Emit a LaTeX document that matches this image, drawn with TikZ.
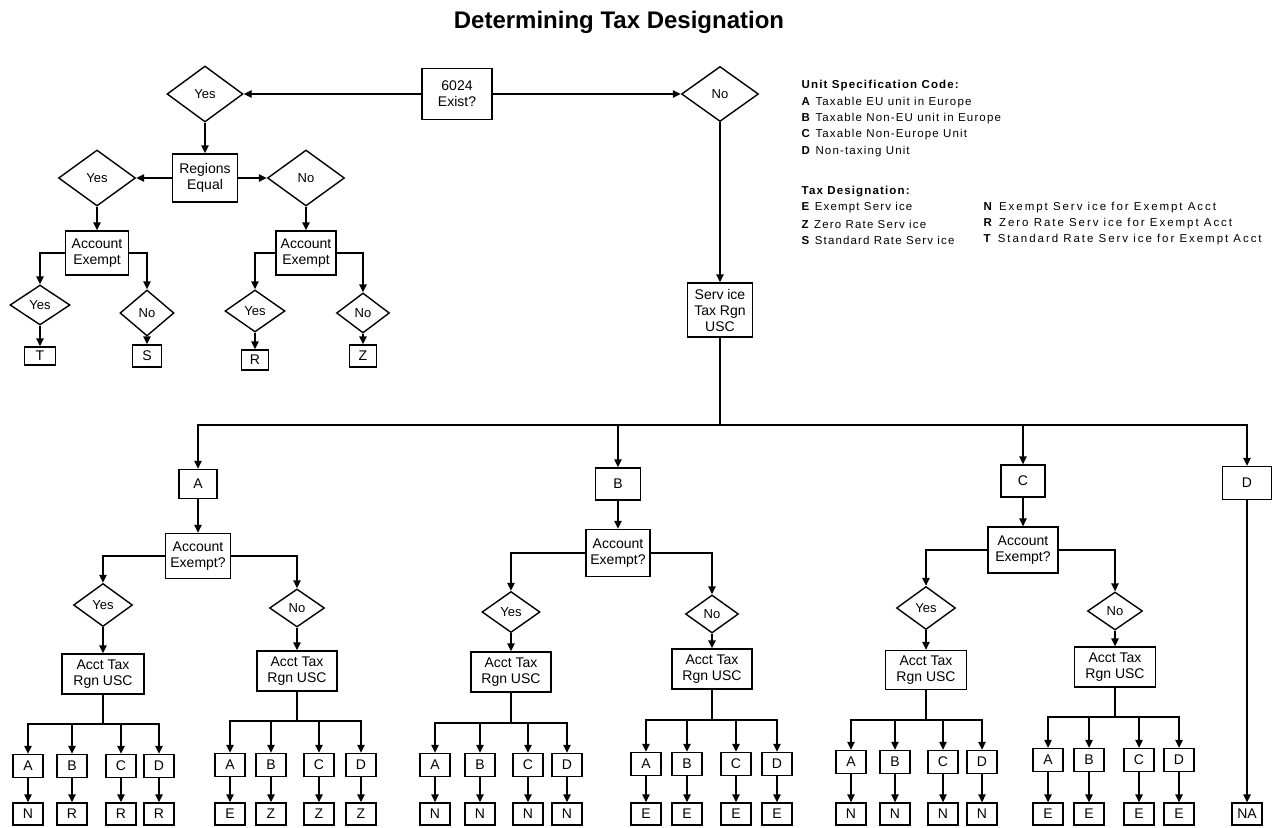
\documentclass[tikz,border=0pt]{standalone}
\usepackage{fontspec}
\setmainfont{Liberation Sans}
\newfontfamily\keyfontL[LetterSpace=10]{Liberation Sans}
\newfontfamily\keyfontR[LetterSpace=17]{Liberation Sans}
\usetikzlibrary{arrows.meta,shapes.geometric}

% one row of unit boxes under an "Acct Tax Rgn USC" box, each with its result box
\newcommand\subrow[5]{%
  \coordinate (#1j) at (#2.south |- 0,#3);
  \draw[thick line] (#2.south) -- (#1j);
  \foreach \xx/\uu/\ll [count=\k] in {#5} {
    \node[sbox] (#1u\k) at (\xx,#4) {\uu};
    \node[sbox,minimum height=22pt] (#1l\k) at (\xx,814) {\ll};
    \draw[->] (#1j) -| (#1u\k.north);
    \draw[->] (#1u\k) -- (#1l\k);
  }%
}

\begin{document}
\begin{tikzpicture}[x=1pt,y=-1pt,
  line width=1.4pt,
  >={Triangle[length=8pt,width=7.5pt]},
  thick line/.style={line width=1.9pt},
  box/.style={draw,line width=1.4pt,align=center,inner sep=0pt,font=\fontsize{14}{16}\selectfont},
  dia/.style={draw,diamond,line width=1.4pt,inner sep=0pt,font=\fontsize{13}{15}\selectfont},
  sbox/.style={box,minimum width=30pt,minimum height=23pt},
  legL/.style={anchor=west,inner sep=0pt,font=\keyfontL\fontsize{11.5}{13}\selectfont},
  legR/.style={anchor=west,inner sep=0pt,font=\keyfontR\fontsize{11.5}{13}\selectfont}]
\useasboundingbox (0,0) rectangle (1279,827);

% title
\node[anchor=base,font=\bfseries\fontsize{24}{28}\selectfont] (title) at (619,28) {Determining Tax Designation};

% ---- first question: does a 6024 exist?
\node[box,minimum width=70pt,minimum height=51pt] (q6024) at (457,94) {6024\\Exist?};
\node[dia,minimum width=76pt,minimum height=56pt] (yesTop) at (205,94) {Yes};
\node[dia,minimum width=77pt,minimum height=55pt] (noTop) at (720,94) {No};
\draw[->] (q6024) -- (yesTop);
\draw[->] (q6024) -- (noTop);

% ---- "Yes" branch: compare regions
\node[box,minimum width=65pt,minimum height=48pt] (regions) at (205,178) {Regions\\Equal};
\node[dia,minimum width=77pt,minimum height=56pt] (yesR) at (97,178) {Yes};
\node[dia,minimum width=77pt,minimum height=56pt] (noR) at (306,178) {No};
\node[box,minimum width=63pt,minimum height=44pt] (aeL) at (97,253) {Account\\Exempt};
\node[box,minimum width=60pt,minimum height=44pt] (aeR) at (306,253) {Account\\Exempt};
\node[dia,minimum width=60pt,minimum height=40pt] (yL) at (40,305) {Yes};
\node[dia,minimum width=54pt,minimum height=46pt] (nL) at (147,313) {No};
\node[dia,minimum width=60pt,minimum height=42pt] (yR) at (255,311) {Yes};
\node[dia,minimum width=53pt,minimum height=40pt] (nR) at (363,313) {No};
\node[box,minimum width=31pt,minimum height=18pt] (T) at (40,356) {T};
\node[box,minimum width=29pt,minimum height=22pt] (S) at (147,356) {S};
\node[box,minimum width=27pt,minimum height=20pt] (R) at (255,360) {R};
\node[box,minimum width=27pt,minimum height=22pt] (Z) at (363,356) {Z};
\draw[->] (yesTop) -- (regions);
\draw[->] (regions) -- (yesR);
\draw[->] (regions) -- (noR);
\draw[->] (yesR) -- (aeL);
\draw[->] (noR) -- (aeR);
\draw[->] (aeL.west) -| (yL.north);
\draw[->] (aeL.east) -| (nL.north);
\draw[->] (aeR.west) -| (yR.north);
\draw[->] (aeR.east) -| (nR.north);
\draw[->] (yL) -- (T);
\draw[->] (nL) -- (S);
\draw[->] (yR) -- (R);
\draw[->] (nR) -- (Z);

% ---- "No" branch: service tax region
\node[box,minimum width=65pt,minimum height=54pt] (svc) at (720,310) {Serv ice\\Tax Rgn\\USC};
\draw[->] (noTop) -- (svc);
\coordinate (bus) at (720,425);
\draw[thick line] (svc) -- (bus);

\node[box,minimum width=38pt,minimum height=29pt] (uA) at (198,484) {A};
\node[box,minimum width=45pt,minimum height=32pt] (uB) at (618,484) {B};
\node[box,minimum width=44pt,minimum height=32pt] (uC) at (1023,481) {C};
\node[box,minimum width=49pt,minimum height=33pt] (uD) at (1247,483) {D};
\draw[->] (bus) -| (uA.north);
\draw[->] (bus) -| (uB.north);
\draw[->] (bus) -| (uC.north);
\draw[->] (bus) -| (uD.north);

% unit A
\node[box,minimum width=65pt,minimum height=45pt] (aeA) at (198,556) {Account\\Exempt?};
\node[dia,minimum width=59pt,minimum height=43pt] (yA) at (103,605) {Yes};
\node[dia,minimum width=55pt,minimum height=38pt] (nA) at (297,608) {No};
\node[box,minimum width=82pt,minimum height=40pt] (tyA) at (103,674) {Acct Tax\\Rgn USC};
\node[box,minimum width=80pt,minimum height=40pt] (tnA) at (297,671) {Acct Tax\\Rgn USC};
\draw[->] (uA) -- (aeA);
\draw[->] (aeA.west) -| (yA.north);
\draw[->] (aeA.east) -| (nA.north);
\draw[->] (yA) -- (tyA);
\draw[->] (nA) -- (tnA);
\subrow{ay}{tyA}{724}{766}{28/A/N,72/B/R,121/C/R,159/D/R}
\subrow{an}{tnA}{721}{765}{230/A/E,271/B/Z,319/C/Z,361/D/Z}

% unit B
\node[box,minimum width=64pt,minimum height=47pt] (aeB) at (618,553) {Account\\Exempt?};
\node[dia,minimum width=58pt,minimum height=41pt] (yB) at (511,612) {Yes};
\node[dia,minimum width=53pt,minimum height=38pt] (nB) at (712,614) {No};
\node[box,minimum width=80pt,minimum height=40pt] (tyB) at (511,672) {Acct Tax\\Rgn USC};
\node[box,minimum width=80pt,minimum height=40pt] (tnB) at (712,669) {Acct Tax\\Rgn USC};
\draw[->] (uB) -- (aeB);
\draw[->] (aeB.west) -| (yB.north);
\draw[->] (aeB.east) -| (nB.north);
\draw[->] (yB) -- (tyB);
\draw[->] (nB) -- (tnB);
\subrow{by}{tyB}{723}{765}{435/A/N,480/B/N,528/C/N,567/D/N}
\subrow{bn}{tnB}{720}{764}{646/A/E,687/B/E,736/C/E,777/D/E}

% unit C
\node[box,minimum width=70pt,minimum height=46pt] (aeC) at (1023,550) {Account\\Exempt?};
\node[dia,minimum width=59pt,minimum height=43pt] (yC) at (926,608) {Yes};
\node[dia,minimum width=55pt,minimum height=38pt] (nC) at (1115,611) {No};
\node[box,minimum width=81pt,minimum height=39pt] (tyC) at (926,670) {Acct Tax\\Rgn USC};
\node[box,minimum width=81pt,minimum height=40pt] (tnC) at (1115,667) {Acct Tax\\Rgn USC};
\draw[->] (uC) -- (aeC);
\draw[->] (aeC.west) -| (yC.north);
\draw[->] (aeC.east) -| (nC.north);
\draw[->] (yC) -- (tyC);
\draw[->] (nC) -- (tnC);
\subrow{cy}{tyC}{720}{762}{851/A/N,895/B/N,943/C/N,982/D/N}
\subrow{cn}{tnC}{717}{760}{1048/A/E,1089/B/E,1139/C/E,1179/D/E}

% unit D
\node[sbox,minimum height=22pt] (NA) at (1247,814) {NA};
\draw[->] (uD) -- (NA);

% ---- key
\node[legL] (k0) at (801,86) {\textbf{Unit Specification Code:}};
\node[legL] (k1) at (801,103) {\textbf{A} Taxable EU unit in Europe};
\node[legL] (k2) at (801,119) {\textbf{B} Taxable Non-EU unit in Europe};
\node[legL] (k3) at (801,135) {\textbf{C} Taxable Non-Europe Unit};
\node[legL] (k4) at (801,152) {\textbf{D} Non-taxing Unit};
\node[legL] (k5) at (801,192) {\textbf{Tax Designation:}};
\node[legL] (k6) at (801,208) {\textbf{E} Exempt Serv ice};
\node[legL] (k7) at (801,224) {\textbf{Z} Zero Rate Serv ice};
\node[legL] (k8) at (801,240) {\textbf{S} Standard Rate Serv ice};
\node[legR] (k9) at (983,208) {\textbf{N} Exempt Serv ice for Exempt Acct};
\node[legR] (k10) at (983,224) {\textbf{R} Zero Rate Serv ice for Exempt Acct};
\node[legR] (k11) at (983,240) {\textbf{T} Standard Rate Serv ice for Exempt Acct};
\end{tikzpicture}
\end{document}
